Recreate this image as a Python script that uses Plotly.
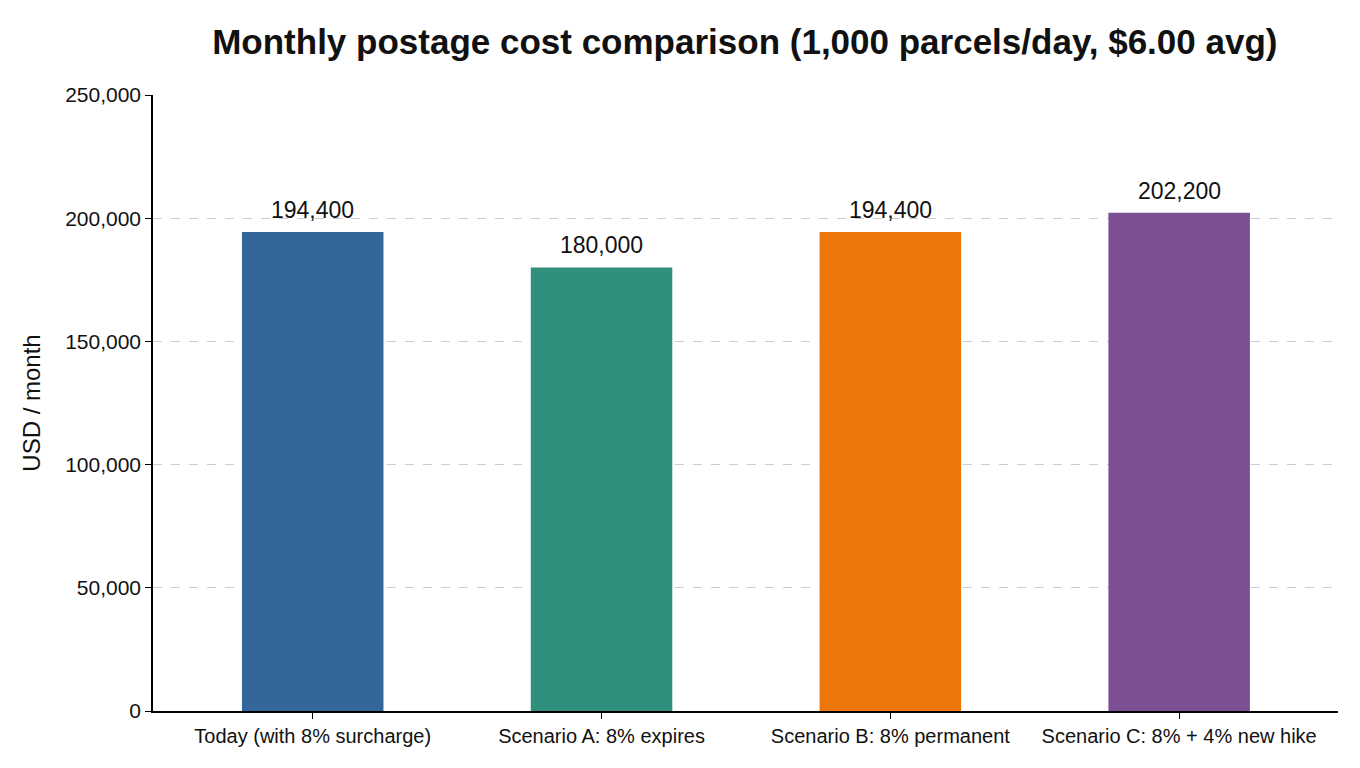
import plotly.graph_objects as go

scenarios = [
    "Today (with 8% surcharge)",
    "Scenario A: 8% expires",
    "Scenario B: 8% permanent",
    "Scenario C: 8% + 4% new hike",
]
monthly_cost = [194400, 180000, 194400, 202200]
bar_colors = ["#33669b", "#318f7e", "#ec7609", "#7c4f92"]

fig = go.Figure(
    go.Bar(
        x=scenarios,
        y=monthly_cost,
        width=0.49,
        marker=dict(color=bar_colors, line=dict(width=0)),
        hoverinfo="x+y",
    )
)

# value labels a little above each bar
for name, val in zip(scenarios, monthly_cost):
    fig.add_annotation(
        x=name,
        y=val,
        text=f"{val:,.0f}",
        showarrow=False,
        yanchor="bottom",
        yshift=7,
        font=dict(size=23, color="#111111"),
    )

# page body has an 8px margin, so the figure is sized to fit inside it
fig.update_layout(
    width=1352,
    height=760,
    plot_bgcolor="white",
    paper_bgcolor="white",
    font=dict(family="Liberation Sans, Arial, sans-serif", color="#111111"),
    title=dict(
        text="<b>Monthly postage cost comparison (1,000 parcels/day, $6.00 avg)</b>",
        x=0.545,
        xanchor="center",
        y=0.955,
        yanchor="middle",
        font=dict(size=35, color="#111111"),
    ),
    margin=dict(l=145, r=22, t=87, b=57),
    showlegend=False,
)

fig.update_xaxes(
    range=[-0.553, 3.55],
    showline=True,
    linecolor="black",
    linewidth=1.5,
    ticks="outside",
    ticklen=6,
    tickcolor="black",
    tickfont=dict(size=20),
    showgrid=False,
)

fig.update_yaxes(
    range=[0, 250000],
    tickvals=[0, 50000, 100000, 150000, 200000, 250000],
    tickformat=",d",
    showline=True,
    linecolor="black",
    linewidth=1.5,
    ticks="outside",
    ticklen=6,
    tickcolor="black",
    tickfont=dict(size=21),
    showgrid=True,
    gridcolor="#cccccc",
    griddash="dash",
    gridwidth=1,
    zeroline=False,
    title=dict(text="USD / month", font=dict(size=24), standoff=18),
)

fig.write_html("out.html")
